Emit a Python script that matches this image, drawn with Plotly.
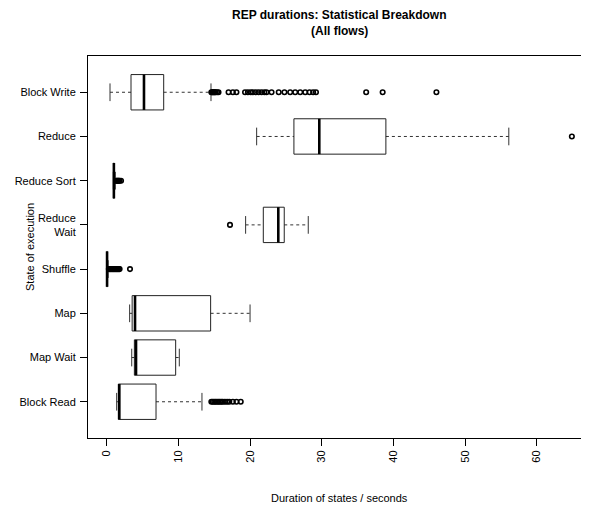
import plotly.graph_objects as go

# ---- data ----
categories = ["Block Read", "Map Wait", "Map", "Shuffle", "Reduce\nWait",
              "Reduce Sort", "Reduce", "Block Write"]
lower_whisker = [1.39, 3.49, 3.2, 0.0, 19.38, 0.92, 20.92, 0.46]
q1_values     = [1.62, 3.86, 3.55, 0.02, 21.85, 0.96, 26.12, 3.39]
medians       = [1.76, 4.09, 3.95, 0.05, 23.94, 1.0, 29.66, 5.2]
q3_values     = [6.88, 9.62, 14.5, 0.08, 24.77, 1.05, 38.95, 7.95]
upper_whisker = [13.29, 10.13, 20.0, 0.2, 28.12, 1.2, 56.1, 14.55]

outliers = {
    "Block Read": [14.6, 14.8, 15.0, 15.2, 15.4, 15.6, 15.8, 16.0, 16.2, 16.5,
                   16.8, 17.1, 17.6, 18.1, 18.7],
    "Map Wait": [],
    "Map": [],
    "Shuffle": [0.3, 0.4, 0.5, 0.6, 0.7, 0.8, 0.9, 1.0, 1.1, 1.2, 1.3, 1.4,
                1.5, 1.6, 1.7, 1.8, 3.25],
    "Reduce\nWait": [17.2],
    "Reduce Sort": [1.3, 1.4, 1.5, 1.6, 1.7, 1.8, 2.0],
    "Reduce": [64.9],
    "Block Write": [14.6, 14.7, 14.8, 14.9, 15.0, 15.1, 15.2, 15.4, 15.6,
                    17.0, 17.6, 18.1, 19.3, 19.7, 20.1, 20.4, 20.8, 21.2,
                    21.6, 22.0, 22.3, 23.0, 24.0, 24.8, 25.6, 26.3, 27.0,
                    27.7, 28.3, 28.8, 29.2, 36.2, 38.5, 46.0],
}

x_ticks = [0, 10, 20, 30, 40, 50, 60]

title_line1 = "REP durations: Statistical Breakdown"
title_line2 = "(All flows)"
x_title = "Duration of states / seconds"
y_title = "State of execution"

# ---- build geometry from the data ----
positions = list(range(1, len(categories) + 1))
half_box = 0.4
half_staple = 0.2

box_x, box_y = [], []
med_x, med_y = [], []
wh_x, wh_y = [], []
st_x, st_y = [], []
out_x, out_y = [], []
for p, cat, lo, a, m, b, hi in zip(positions, categories, lower_whisker,
                                   q1_values, medians, q3_values, upper_whisker):
    box_x += [a, b, b, a, a, None]
    box_y += [p - half_box, p - half_box, p + half_box, p + half_box, p - half_box, None]
    med_x += [m, m, None]
    med_y += [p - half_box, p + half_box, None]
    wh_x += [lo, a, None, b, hi, None]
    wh_y += [p, p, None, p, p, None]
    st_x += [lo, lo, None, hi, hi, None]
    st_y += [p - half_staple, p + half_staple, None, p - half_staple, p + half_staple, None]
    for v in outliers[cat]:
        out_x.append(v)
        out_y.append(p)

FONT = "Liberation Sans, Arial, Helvetica, sans-serif"

fig = go.Figure()
fig.add_trace(go.Scatter(x=wh_x, y=wh_y, mode="lines",
                         line=dict(color="#333333", width=1, dash="3px,3px"),
                         hoverinfo="skip", showlegend=False))
fig.add_trace(go.Scatter(x=st_x, y=st_y, mode="lines",
                         line=dict(color="#333333", width=1),
                         hoverinfo="skip", showlegend=False))
fig.add_trace(go.Scatter(x=box_x, y=box_y, mode="lines",
                         line=dict(color="#222222", width=1),
                         hoverinfo="skip", showlegend=False))
fig.add_trace(go.Scatter(x=med_x, y=med_y, mode="lines",
                         line=dict(color="black", width=2.6),
                         hoverinfo="skip", showlegend=False))
fig.add_trace(go.Scatter(x=out_x, y=out_y, mode="markers",
                         marker=dict(symbol="circle-open", size=4.5,
                                     color="black", line=dict(width=1.6)),
                         hoverinfo="skip", showlegend=False))

# page offset from default body margin
OFF = 8
PL, PT, PB, PR = 88, 56, 438, 589   # plot box in page pixels
W, H = 589 - OFF, 506 - OFF
plot_w = PR - PL
plot_h = PB - PT

fig.update_layout(
    width=W, height=H,
    margin=dict(l=PL - OFF, r=W - (PR - OFF), t=PT - OFF, b=H - (PB - OFF), pad=0),
    paper_bgcolor="white", plot_bgcolor="white",
    font=dict(family=FONT, size=11, color="black"),
    showlegend=False,
    xaxis=dict(range=[-2.61, 67.29], tickvals=x_ticks,
               ticktext=[str(t) for t in x_ticks],
               ticks="outside", ticklen=7, tickwidth=1, tickcolor="black",
               tickangle=-90, showgrid=False, zeroline=False,
               showline=True, linecolor="black", linewidth=1, mirror=True,
               tickfont=dict(size=11, family=FONT)),
    yaxis=dict(range=[0.18, 8.82], tickvals=positions,
               ticktext=[c.replace("\n", "<br>") for c in categories],
               ticks="outside", ticklen=7, tickwidth=1, tickcolor="black",
               showgrid=False, zeroline=False,
               showline=True, linecolor="black", linewidth=1,
               ticklabelstandoff=2,
               tickfont=dict(size=11, family=FONT)),
    annotations=[
        dict(text="<b>" + title_line1 + "</b>", xref="paper", yref="paper",
             x=(339.5 - PL) / plot_w, y=(PB - 15) / plot_h,
             xanchor="center", yanchor="middle", showarrow=False,
             font=dict(size=12, family=FONT)),
        dict(text="<b>" + title_line2 + "</b>", xref="paper", yref="paper",
             x=(339.5 - PL) / plot_w, y=(PB - 31) / plot_h,
             xanchor="center", yanchor="middle", showarrow=False,
             font=dict(size=12, family=FONT)),
        dict(text=x_title, xref="paper", yref="paper",
             x=(339.5 - PL) / plot_w, y=(PB - 498) / plot_h,
             xanchor="center", yanchor="middle", showarrow=False,
             font=dict(size=11, family=FONT)),
        dict(text=y_title, xref="paper", yref="paper",
             x=(30 - PL) / plot_w, y=(PB - 247) / plot_h,
             xanchor="center", yanchor="middle", showarrow=False,
             textangle=-90, font=dict(size=11, family=FONT)),
    ],
)

fig.write_html("out.html")
